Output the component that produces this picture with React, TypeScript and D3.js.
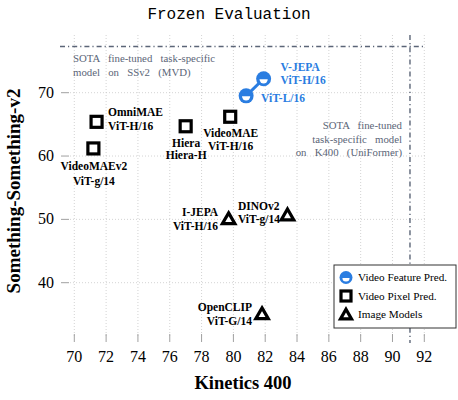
import React from "react";
import * as d3 from "d3";

// ---- data ----
const featureNames = ["ViT-L/16", "ViT-H/16"];
const featureK400 = [80.8, 81.9];
const featureSSv2 = [69.5, 72.2];

const pixelNames = ["OmniMAE ViT-H/16", "VideoMAEv2 ViT-g/14", "Hiera Hiera-H", "VideoMAE ViT-H/16"];
const pixelK400 = [71.4, 71.2, 77.0, 79.8];
const pixelSSv2 = [65.4, 61.2, 64.7, 66.2];

const imageNames = ["I-JEPA ViT-H/16", "DINOv2 ViT-g/14", "OpenCLIP ViT-G/14"];
const imageK400 = [79.7, 83.4, 81.8];
const imageSSv2 = [50.0, 50.6, 35.0];

const xTicks = [70, 72, 74, 76, 78, 80, 82, 84, 86, 88, 90, 92];
const yTicks = [40, 50, 60, 70];

const sotaSSv2 = 77.3; // MVD
const sotaK400 = 91.1; // UniFormer

const legendLabels = ["Video Feature Pred.", "Video Pixel Pred.", "Image Models"];

const BLUE = "#2a7de1";
const GRAY = "#5b6577";
const SERIF = "'Liberation Serif', 'Times New Roman', serif";

type LabelCfg = { lines: string[]; dx: number; dy: number[]; anchor: "start" | "middle" | "end" };

const labelCfg: Record<string, LabelCfg> = {
  "OmniMAE ViT-H/16": { lines: ["OmniMAE", "ViT-H/16"], dx: 11.5, dy: [-5.5, 8.5], anchor: "start" },
  "VideoMAEv2 ViT-g/14": { lines: ["VideoMAEv2", "ViT-g/14"], dx: 0.5, dy: [21.5, 37], anchor: "middle" },
  "Hiera Hiera-H": { lines: ["Hiera", "Hiera-H"], dx: 0.5, dy: [20.5, 33], anchor: "middle" },
  "VideoMAE ViT-H/16": { lines: ["VideoMAE", "ViT-H/16"], dx: 0.5, dy: [20.5, 33], anchor: "middle" },
  "I-JEPA ViT-H/16": { lines: ["I-JEPA", "ViT-H/16"], dx: -10.5, dy: [-3, 10.5], anchor: "end" },
  "DINOv2 ViT-g/14": { lines: ["DINOv2", "ViT-g/14"], dx: -49.5, dy: [-6, 7.5], anchor: "start" },
  "OpenCLIP ViT-G/14": { lines: ["OpenCLIP", "ViT-G/14"], dx: -10, dy: [-3, 11], anchor: "end" },
};

function Square({ x, y, s = 11 }: { x: number; y: number; s?: number }) {
  return <rect x={x - s / 2} y={y - s / 2} width={s} height={s} fill="white" stroke="black" strokeWidth={3.2} />;
}

function Triangle({ x, y, s = 12.5 }: { x: number; y: number; s?: number }) {
  const h = s * 0.87;
  const p = d3.path();
  p.moveTo(x, y - h * 0.6);
  p.lineTo(x + s / 2, y + h * 0.4);
  p.lineTo(x - s / 2, y + h * 0.4);
  p.closePath();
  return <path d={p.toString()} fill="white" stroke="black" strokeWidth={3.2} strokeLinejoin="miter" />;
}

function HalfCircle({ x, y, r = 7.5 }: { x: number; y: number; r?: number }) {
  const ri = r * 0.55;
  const arc = d3.arc()({ innerRadius: 0, outerRadius: ri, startAngle: Math.PI / 2, endAngle: (3 * Math.PI) / 2 }) as string;
  return (
    <g>
      <circle cx={x} cy={y} r={r} fill={BLUE} />
      <path d={arc} transform={`translate(${x},${y + 0.5})`} fill="white" />
    </g>
  );
}

export default function App() {
  const x = d3.scaleLinear().domain([70, 92]).range([74.3, 424.3]);
  const y = d3.scaleLinear().domain([40, 70]).range([282.7, 92.7]);

  const plotLeft = 70;
  const plotRight = 426;
  const plotTop = 35;
  const plotBottom = 338;

  const line = d3
    .line<number>()
    .x((_, i) => x(featureK400[i]))
    .y((_, i) => y(featureSSv2[i]));

  const legendX = 334;
  const legendY = 265;
  const labelSize = 11.5;

  return (
    <svg width={458} height={400} style={{ position: "absolute", left: 0, top: 0, background: "white" }} fontFamily={SERIF}>
      {/* title */}
      <text x={229} y={19} textAnchor="middle" fontFamily="'Liberation Mono', 'DejaVu Sans Mono', monospace" fontSize={16}>
        Frozen Evaluation
      </text>

      {/* grid */}
      {xTicks.map((t) => (
        <line key={"gx" + t} x1={x(t)} x2={x(t)} y1={plotTop} y2={plotBottom} stroke="#c8c8c8" strokeWidth={0.8} strokeDasharray="1,2" />
      ))}
      {yTicks.map((t) => (
        <line key={"gy" + t} x1={plotLeft} x2={plotRight} y1={y(t)} y2={y(t)} stroke="#c8c8c8" strokeWidth={0.8} strokeDasharray="1,2" />
      ))}

      {/* ticks */}
      {xTicks.map((t) => (
        <g key={"tx" + t}>
          <line x1={x(t)} x2={x(t)} y1={334} y2={342} stroke="#a0a0a0" strokeWidth={1} />
          <text x={x(t)} y={362} textAnchor="middle" fontSize={16}>
            {t}
          </text>
        </g>
      ))}
      {yTicks.map((t) => (
        <g key={"ty" + t}>
          <line x1={61} x2={69} y1={y(t)} y2={y(t)} stroke="#a0a0a0" strokeWidth={1} />
          <text x={54} y={y(t) + 5} textAnchor="end" fontSize={16}>
            {t}
          </text>
        </g>
      ))}

      {/* axis titles */}
      <text x={243} y={389} textAnchor="middle" fontSize={18.5} fontWeight="bold">
        Kinetics 400
      </text>
      <text transform="translate(20,191) rotate(-90)" textAnchor="middle" fontSize={19} fontWeight="bold">
        Something-Something-v2
      </text>

      {/* SOTA lines */}
      <line x1={60} x2={425} y1={y(sotaSSv2)} y2={y(sotaSSv2)} stroke={GRAY} strokeWidth={1.4} strokeDasharray="5,3,1.2,3" />
      <line x1={x(sotaK400)} x2={x(sotaK400)} y1={plotTop} y2={343} stroke={GRAY} strokeWidth={1.4} strokeDasharray="5,3,1.2,3" />

      <g fontSize={10.8} fill={GRAY} style={{ wordSpacing: "5.5px" }}>
        <text x={73} y={62}>SOTA fine-tuned task-specific</text>
        <text x={73} y={75.5}>model on SSv2 (MVD)</text>
        <text x={402} y={129} textAnchor="end">SOTA fine-tuned</text>
        <text x={402} y={142.5} textAnchor="end">task-specific model</text>
        <text x={402} y={156} textAnchor="end">on K400 (UniFormer)</text>
      </g>

      {/* pixel models */}
      {pixelNames.map((n, i) => {
        const cx = x(pixelK400[i]);
        const cy = y(pixelSSv2[i]);
        const c = labelCfg[n];
        return (
          <g key={n}>
            <Square x={cx} y={cy} />
            {c.lines.map((l, j) => (
              <text key={j} x={cx + c.dx} y={cy + c.dy[j]} textAnchor={c.anchor} fontSize={labelSize} fontWeight="bold">
                {l}
              </text>
            ))}
          </g>
        );
      })}

      {/* image models */}
      {imageNames.map((n, i) => {
        const cx = x(imageK400[i]);
        const cy = y(imageSSv2[i]);
        const c = labelCfg[n];
        return (
          <g key={n}>
            <Triangle x={cx} y={cy} />
            {c.lines.map((l, j) => (
              <text key={j} x={cx + c.dx} y={cy + c.dy[j]} textAnchor={c.anchor} fontSize={labelSize} fontWeight="bold">
                {l}
              </text>
            ))}
          </g>
        );
      })}

      {/* feature prediction (V-JEPA) */}
      <path d={line(featureK400) as string} fill="none" stroke={BLUE} strokeWidth={3} />
      {featureNames.map((n, i) => (
        <HalfCircle key={n} x={x(featureK400[i])} y={y(featureSSv2[i])} />
      ))}
      <g fill={BLUE} fontSize={labelSize} fontWeight="bold">
        <text x={x(featureK400[1]) + 17} y={y(featureSSv2[1]) - 7.5}>V-JEPA</text>
        <text x={x(featureK400[1]) + 17} y={y(featureSSv2[1]) + 5.5}>{featureNames[1]}</text>
        <text x={x(featureK400[0]) + 15} y={y(featureSSv2[0]) + 6.5}>{featureNames[0]}</text>
      </g>

      {/* legend */}
      <rect x={legendX} y={legendY} width={122} height={63} fill="white" stroke="#333" strokeWidth={1} />
      <HalfCircle x={legendX + 12} y={legendY + 12.5} r={6.5} />
      <Square x={legendX + 12} y={legendY + 31} s={10} />
      <Triangle x={legendX + 12} y={legendY + 50} s={11} />
      {legendLabels.map((l, i) => (
        <text key={l} x={legendX + 24} y={legendY + 16 + i * 18.5} fontSize={11.2}>
          {l}
        </text>
      ))}
    </svg>
  );
}
